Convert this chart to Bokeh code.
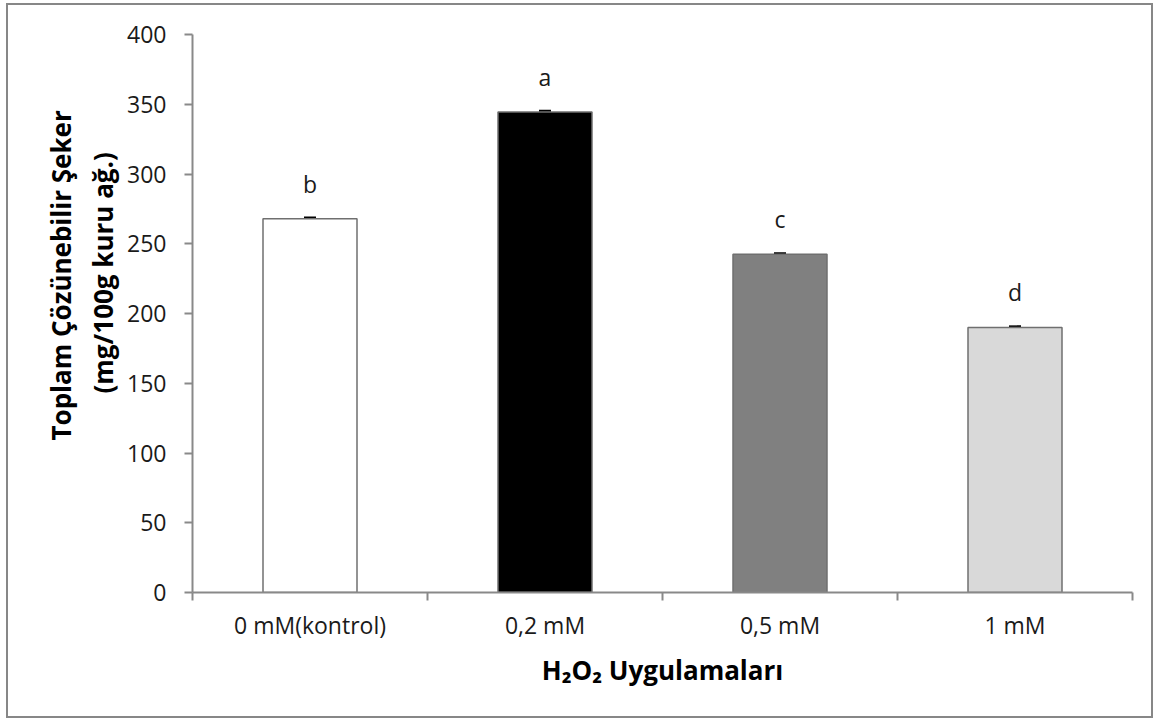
from bokeh.plotting import figure
from bokeh.models import (FactorRange, Range1d, LinearAxis, FixedTicker, Whisker,
                          ColumnDataSource, TeeHead, Title)
from bokeh.embed import file_html
from bokeh.resources import INLINE
from bokeh.core.properties import value

# ---- data ----
categories = ["0 mM(kontrol)", "0,2 mM", "0,5 mM", "1 mM"]
sugar = [268.0, 344.5, 242.5, 190.0]
errors = [0.6, 0.6, 0.6, 0.6]
letters = ["b", "a", "c", "d"]
bar_colors = ["#ffffff", "#000000", "#808080", "#d9d9d9"]
y_ticks = [0, 50, 100, 150, 200, 250, 300, 350, 400]
y_title_1 = "Toplam Çözünebilir Şeker"
y_title_2 = "(mg/100g kuru ağ.)"
x_title = "H₂O₂ Uygulamaları"

FONT = "Open Sans"
AXIS_GRAY = "#898989"

W, H = 1147, 715
OX, OY = 8, 5          # canvas origin on the page (margin + border)
n = len(categories)
src = ColumnDataSource(dict(
    cat=categories, top=sugar, color=bar_colors, letter=letters,
    hi=[v + e for v, e in zip(sugar, errors)],
    lo=[v - e for v, e in zip(sugar, errors)],
))

p = figure(x_range=FactorRange(factors=categories), y_range=Range1d(0, 400),
           width=W, height=H, output_backend="svg", toolbar_location=None,
           x_axis_type=None, y_axis_type=None,
           min_border_left=192 - OX, min_border_right=OX + W - 1132,
           min_border_top=34 - OY, min_border_bottom=OY + H - 592)
p.outline_line_color = None
p.background_fill_color = "white"
p.border_fill_color = "white"
p.styles = {"border": "2px solid #878787", "margin-left": "6px", "margin-top": "3px"}

# y axis
yaxis = LinearAxis(ticker=FixedTicker(ticks=y_ticks, minor_ticks=[]))
yaxis.axis_line_color = AXIS_GRAY
yaxis.axis_line_width = 2
yaxis.major_tick_line_color = AXIS_GRAY
yaxis.major_tick_line_width = 2
yaxis.major_tick_out = 8
yaxis.major_tick_in = 0
yaxis.minor_tick_line_color = None
yaxis.major_label_standoff = 18
yaxis.major_label_text_font = FONT
yaxis.major_label_text_font_size = "23px"
yaxis.major_label_text_color = "#1a1a1a"
p.add_layout(yaxis, "left")

# y axis title, two lines (second line nearest to the axis)
t2 = Title(text=y_title_2, align="left", offset=199, text_font=FONT,
           text_font_size="26px", text_font_style="bold", text_color="#000000",
           standoff=8)
t1 = Title(text=y_title_1, align="left", offset=152, text_font=FONT,
           text_font_size="26px", text_font_style="bold", text_color="#000000",
           standoff=0)
p.add_layout(t2, "left")
p.add_layout(t1, "left")

# x axis: ticks at category boundaries, labels at category centres
xaxis = LinearAxis(ticker=FixedTicker(ticks=[i + 0.5 for i in range(n)],
                                      minor_ticks=list(range(n + 1))),
                   major_label_overrides={i + 0.5: c for i, c in enumerate(categories)})
xaxis.axis_line_color = AXIS_GRAY
xaxis.axis_line_width = 2
xaxis.major_tick_line_color = None
xaxis.major_tick_out = 0
xaxis.major_tick_in = 0
xaxis.minor_tick_line_color = AXIS_GRAY
xaxis.minor_tick_line_width = 2
xaxis.minor_tick_out = 8
xaxis.minor_tick_in = 0
xaxis.major_label_standoff = 8
xaxis.major_label_text_font = FONT
xaxis.major_label_text_font_size = "23px"
xaxis.major_label_text_color = "#1a1a1a"
xaxis.axis_label = x_title
xaxis.axis_label_text_font = FONT
xaxis.axis_label_text_font_size = "26px"
xaxis.axis_label_text_font_style = "bold"
xaxis.axis_label_text_color = "#000000"
xaxis.axis_label_standoff = 8
p.add_layout(xaxis, "below")

# bars
p.vbar(x="cat", top="top", width=0.4, source=src, fill_color="color",
       line_color="#6f6f6f", line_width=1.5)

# error bars
w = Whisker(base="cat", upper="hi", lower="lo", source=src, line_color="black", line_width=2,
            upper_head=TeeHead(size=12, line_width=2.5, line_color="black"),
            lower_head=TeeHead(size=12, line_width=2.5, line_color="black"))
p.add_layout(w)

# significance letters
p.text(x="cat", y="top", text="letter", source=src, y_offset=-35,
       text_align="center", text_baseline="alphabetic",
       text_font=value(FONT), text_font_size="23px", text_color="#1a1a1a")

open("out.html", "w").write(file_html(p, INLINE))
